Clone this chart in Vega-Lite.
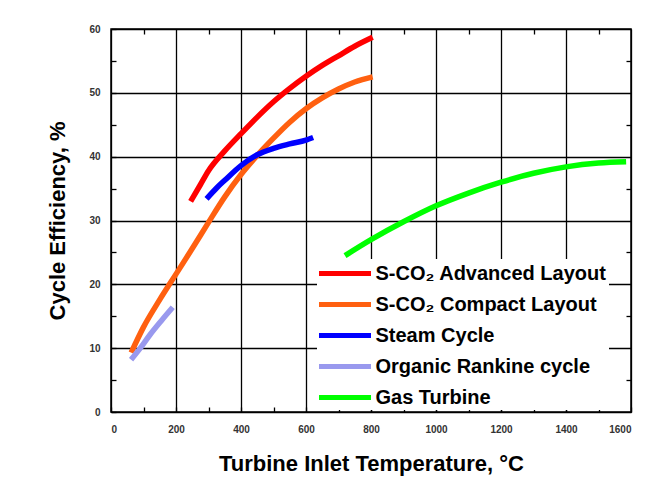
{
  "$schema": "https://vega.github.io/schema/vega-lite/v6.json",
  "width": 520,
  "height": 383,
  "autosize": {"type": "none"},
  "padding": {"left": 111, "top": 29, "right": 31, "bottom": 73},
  "background": "white",
  "config": {"view": {"stroke": "black", "strokeWidth": 1.5}, "font": "Liberation Sans"},
  "data": {"values": [
    {"series": "S-CO₂ Advanced Layout", "t": 245, "eff": 33.0},
    {"series": "S-CO₂ Advanced Layout", "t": 275, "eff": 35.6},
    {"series": "S-CO₂ Advanced Layout", "t": 300, "eff": 37.8},
    {"series": "S-CO₂ Advanced Layout", "t": 350, "eff": 40.9},
    {"series": "S-CO₂ Advanced Layout", "t": 400, "eff": 43.6},
    {"series": "S-CO₂ Advanced Layout", "t": 450, "eff": 46.2},
    {"series": "S-CO₂ Advanced Layout", "t": 500, "eff": 48.6},
    {"series": "S-CO₂ Advanced Layout", "t": 550, "eff": 50.7},
    {"series": "S-CO₂ Advanced Layout", "t": 600, "eff": 52.6},
    {"series": "S-CO₂ Advanced Layout", "t": 650, "eff": 54.3},
    {"series": "S-CO₂ Advanced Layout", "t": 700, "eff": 55.8},
    {"series": "S-CO₂ Advanced Layout", "t": 750, "eff": 57.3},
    {"series": "S-CO₂ Advanced Layout", "t": 805, "eff": 58.7},
    {"series": "S-CO₂ Compact Layout", "t": 62, "eff": 9.3},
    {"series": "S-CO₂ Compact Layout", "t": 100, "eff": 13.3},
    {"series": "S-CO₂ Compact Layout", "t": 150, "eff": 17.6},
    {"series": "S-CO₂ Compact Layout", "t": 200, "eff": 21.6},
    {"series": "S-CO₂ Compact Layout", "t": 250, "eff": 25.6},
    {"series": "S-CO₂ Compact Layout", "t": 300, "eff": 29.7},
    {"series": "S-CO₂ Compact Layout", "t": 350, "eff": 33.7},
    {"series": "S-CO₂ Compact Layout", "t": 400, "eff": 37.2},
    {"series": "S-CO₂ Compact Layout", "t": 450, "eff": 40.2},
    {"series": "S-CO₂ Compact Layout", "t": 500, "eff": 42.9},
    {"series": "S-CO₂ Compact Layout", "t": 550, "eff": 45.4},
    {"series": "S-CO₂ Compact Layout", "t": 600, "eff": 47.5},
    {"series": "S-CO₂ Compact Layout", "t": 650, "eff": 49.2},
    {"series": "S-CO₂ Compact Layout", "t": 700, "eff": 50.6},
    {"series": "S-CO₂ Compact Layout", "t": 750, "eff": 51.7},
    {"series": "S-CO₂ Compact Layout", "t": 805, "eff": 52.5},
    {"series": "Steam Cycle", "t": 294, "eff": 33.4},
    {"series": "Steam Cycle", "t": 325, "eff": 35.1},
    {"series": "Steam Cycle", "t": 350, "eff": 36.3},
    {"series": "Steam Cycle", "t": 400, "eff": 38.6},
    {"series": "Steam Cycle", "t": 450, "eff": 40.3},
    {"series": "Steam Cycle", "t": 500, "eff": 41.3},
    {"series": "Steam Cycle", "t": 550, "eff": 42.0},
    {"series": "Steam Cycle", "t": 600, "eff": 42.6},
    {"series": "Steam Cycle", "t": 622, "eff": 43.0},
    {"series": "Organic Rankine cycle", "t": 62, "eff": 8.2},
    {"series": "Organic Rankine cycle", "t": 90, "eff": 10.0},
    {"series": "Organic Rankine cycle", "t": 120, "eff": 12.1},
    {"series": "Organic Rankine cycle", "t": 155, "eff": 14.3},
    {"series": "Organic Rankine cycle", "t": 190, "eff": 16.4},
    {"series": "Gas Turbine", "t": 720, "eff": 24.5},
    {"series": "Gas Turbine", "t": 800, "eff": 27.0},
    {"series": "Gas Turbine", "t": 900, "eff": 29.8},
    {"series": "Gas Turbine", "t": 1000, "eff": 32.3},
    {"series": "Gas Turbine", "t": 1100, "eff": 34.3},
    {"series": "Gas Turbine", "t": 1200, "eff": 36.0},
    {"series": "Gas Turbine", "t": 1300, "eff": 37.4},
    {"series": "Gas Turbine", "t": 1400, "eff": 38.4},
    {"series": "Gas Turbine", "t": 1500, "eff": 39.0},
    {"series": "Gas Turbine", "t": 1585, "eff": 39.2}
  ]},
  "layer": [
    {
      "mark": {"type": "line", "strokeOpacity": 0},
      "encoding": {
        "x": {"field": "t", "type": "quantitative", "scale": {"domain": [0, 1600], "nice": false},
          "axis": {"orient": "top", "values": [100, 300, 500, 700, 900, 1100, 1300, 1500], "grid": false, "labels": false, "domain": false, "tickSize": -5, "tickColor": "black", "tickWidth": 1.3, "title": null}},
        "y": {"field": "eff", "type": "quantitative", "scale": {"domain": [0, 60], "nice": false},
          "axis": {"orient": "right", "values": [5, 15, 25, 35, 45, 55], "grid": false, "labels": false, "domain": false, "tickSize": -5, "tickColor": "black", "tickWidth": 1.3, "title": null}},
        "detail": {"field": "series", "type": "nominal"}
      }
    },
    {
      "mark": {"type": "line", "strokeWidth": 5.5, "interpolate": "monotone"},
      "encoding": {
        "x": {"field": "t", "type": "quantitative", "scale": {"domain": [0, 1600], "nice": false},
          "axis": {"orient": "bottom", "values": [0, 100, 200, 300, 400, 500, 600, 700, 800, 900, 1000, 1100, 1200, 1300, 1400, 1500, 1600],
            "grid": true, "gridColor": {"condition": {"test": "datum.value % 200 === 0", "value": "black"}, "value": "transparent"}, "gridWidth": 1.3,
            "domain": false, "tickSize": -5, "tickColor": "black", "tickWidth": 1.3,
            "labelExpr": "datum.value % 200 === 0 ? datum.label : ''", "format": "d",
            "labelFontSize": 10, "labelFontWeight": "bold", "labelColor": "#333", "labelPadding": 17,
            "title": "Turbine Inlet Temperature, °C", "titleFontSize": 22, "titleFontWeight": "bold", "titleColor": "black", "titlePadding": 19}},
        "y": {"field": "eff", "type": "quantitative", "scale": {"domain": [0, 60], "nice": false},
          "axis": {"orient": "left", "values": [0, 5, 10, 15, 20, 25, 30, 35, 40, 45, 50, 55, 60],
            "grid": true, "gridColor": {"condition": {"test": "datum.value % 10 === 0", "value": "black"}, "value": "transparent"}, "gridWidth": 1.3,
            "domain": false, "tickSize": -5, "tickColor": "black", "tickWidth": 1.3,
            "labelExpr": "datum.value % 10 === 0 ? datum.label : ''",
            "labelFontSize": 10, "labelFontWeight": "bold", "labelColor": "#333", "labelPadding": 16,
            "title": "Cycle Efficiency, %", "titleFontSize": 22, "titleFontWeight": "bold", "titleColor": "black", "titlePadding": 19}},
        "color": {"field": "series", "type": "nominal",
          "scale": {"domain": ["S-CO₂ Advanced Layout", "S-CO₂ Compact Layout", "Steam Cycle", "Organic Rankine cycle", "Gas Turbine"],
                    "range": ["#ff0000", "#ff6010", "#0000ff", "#9999ee", "#00ff00"]},
          "legend": {"orient": "none", "legendX": 206, "legendY": 230, "title": null,
            "symbolType": "M-2.6,0H2.6", "symbolSize": 400, "symbolStrokeWidth": 5, "symbolOffset": 13.5,
            "labelFontSize": 20, "labelFontWeight": "bold", "labelColor": "black", "labelFont": "Liberation Sans",
            "labelOffset": 18, "labelLimit": 400, "padding": 2, "rowPadding": 8,
            "fillColor": "white", "strokeColor": null}}
      }
    }
  ],
  "resolve": {"axis": {"x": "independent", "y": "independent"}}
}
